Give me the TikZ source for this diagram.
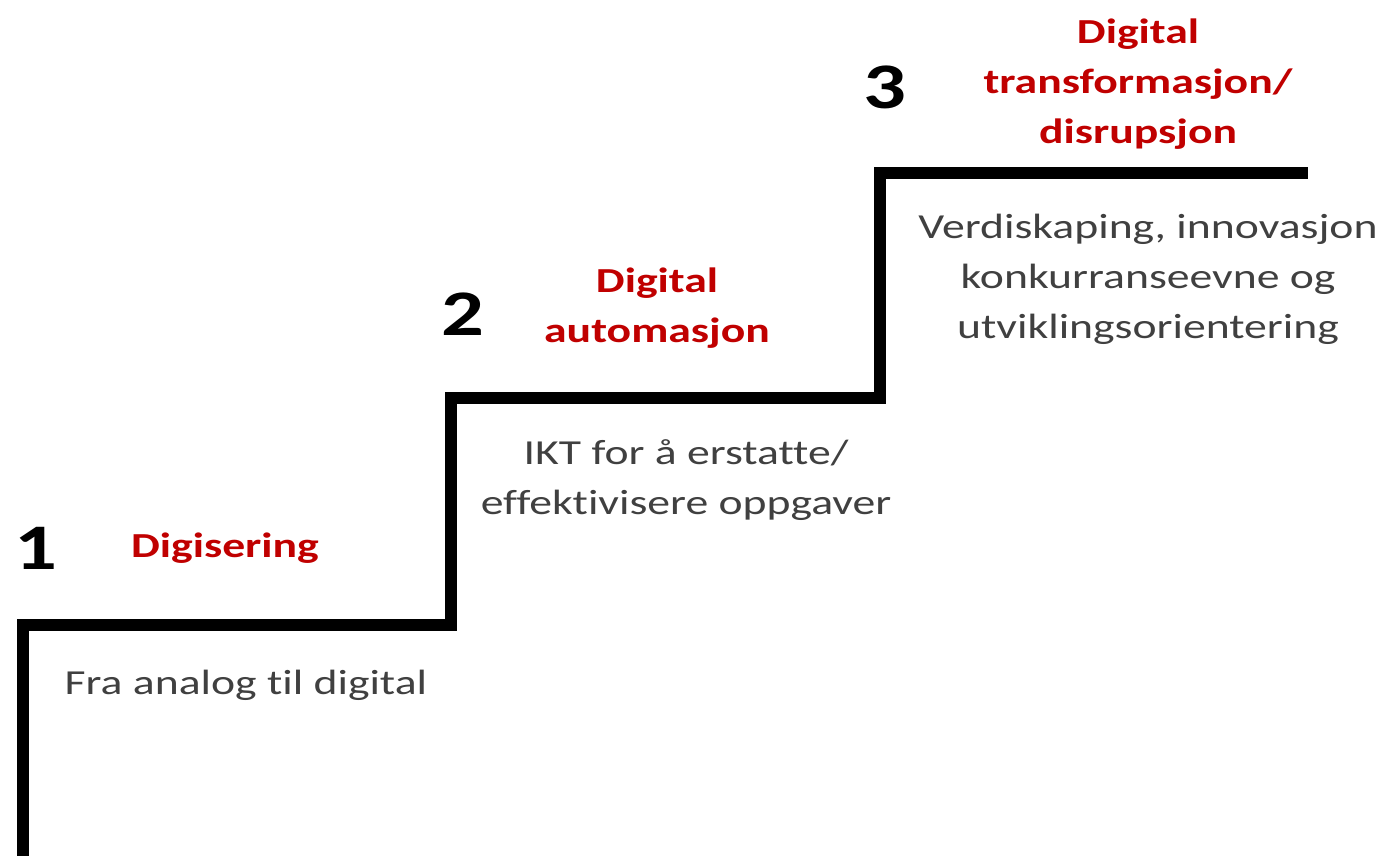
\documentclass[tikz,border=0pt]{standalone}
\usepackage{fontspec}
\setmainfont[FakeStretch=1.3, Ligatures=NoCommon]{Carlito}
\usetikzlibrary{positioning}
\definecolor{stepred}{RGB}{192,0,0}
\definecolor{stepgray}{RGB}{64,64,64}
\tikzset{
  stair/.style={line width=7pt, line join=miter},
  stepnum/.style={font=\fontsize{37}{37}\selectfont\bfseries, text=black, inner sep=0pt},
  steptitle/.style={font=\fontsize{20}{28.5}\selectfont\bfseries, text=stepred, align=center, inner sep=0pt},
  stepdesc/.style={font=\fontsize{20}{28.5}\selectfont, text=stepgray, align=center, inner sep=0pt}
}
\begin{document}
\begin{tikzpicture}[x=0.02cm, y=-0.02cm]
  \useasboundingbox (0, 0) rectangle (1388, 855);

  % the staircase
  \coordinate (base) at (23, 860);
  \coordinate (c1) at (23, 625);
  \coordinate (c2) at (451, 625);
  \coordinate (c3) at (451, 398);
  \coordinate (c4) at (880, 398);
  \coordinate (c5) at (880, 173);
  \coordinate (top) at (1308, 173);
  \draw [stair] (base) -- (c1) -- (c2) -- (c3) -- (c4) -- (c5) -- (top);

  % step 1
  \node [stepnum] (n1) at (36, 548) {1};
  \node [steptitle] (t1) at (225, 548) {Digisering};
  \node [stepdesc] (d1) at (246, 685) {Fra analog til digital};

  % step 2
  \node [stepnum] (n2) at (463, 314) {2};
  \node [steptitle] (t2) at (657, 308) {Digital\\automasjon};
  \node [stepdesc] (d2) at (686, 480) {IKT for å erstatte/\\effektivisere oppgaver};

  % step 3
  \node [stepnum] (n3) at (885, 87) {3};
  \node [steptitle] (t3) at (1138, 84) {Digital\\transformasjon/\\disrupsjon};
  \node [stepdesc] (d3) at (1148, 279) {Verdiskaping, innovasjon\\konkurranseevne og\\utviklingsorientering};
\end{tikzpicture}
\end{document}
